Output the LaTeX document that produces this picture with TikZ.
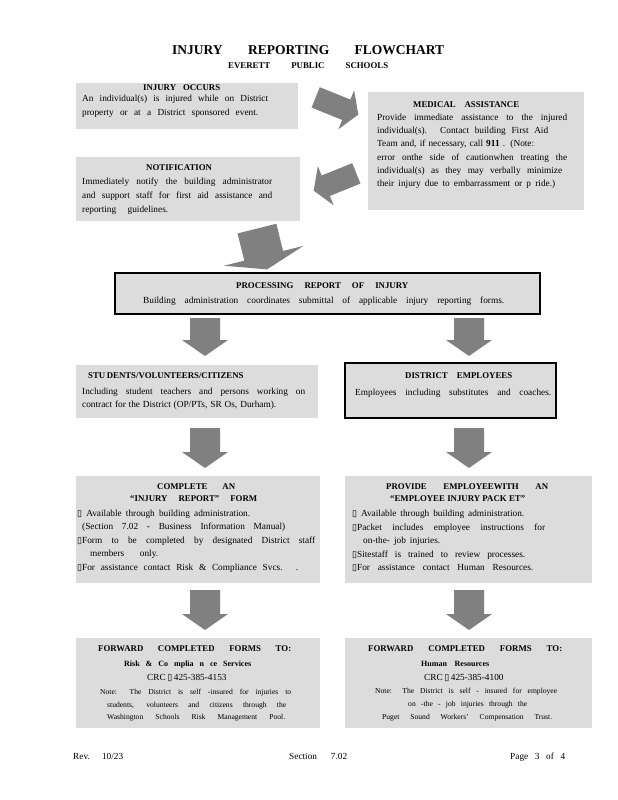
\documentclass[tikz,border=0pt]{standalone}
\usepackage{fontspec}
\setmainfont{Liberation Serif}
\newfontfamily\symfont{DejaVu Sans}
\definecolor{boxgray}{HTML}{DCDCDC}
\definecolor{arrowgray}{HTML}{808080}
\newcommand\jl[2]{\makebox[#1pt][s]{#2}}
\newcommand\sq{{\symfont\fontsize{9}{10}\selectfont ▯}}
\tikzset{
  txt/.style={anchor=base west,inner sep=0pt,font=\fontsize{9.3}{11}\selectfont},
  hd/.style={txt,font=\fontsize{8.8}{10}\selectfont\bfseries},
  sub/.style={txt,font=\fontsize{8}{9}\selectfont\bfseries},
  note/.style={txt,font=\fontsize{7.6}{9}\selectfont},
  box/.style={fill=boxgray},
  framed/.style={fill=boxgray,draw=black,line width=2pt}
}

\begin{document}
\begin{tikzpicture}[x=1pt,y=-1pt]
    \useasboundingbox (0,0) rectangle (618,800);
    \fill[white] (0,0) rectangle (618,800);
    \path[box] (76,83) rectangle (298,129);
    \path[box] (368,92) rectangle (584,210);
    \path[box] (76,157) rectangle (300,221);
    \path[framed] (115,273) rectangle (540,314);
    \path[box] (76,365) rectangle (318,418);
    \path[framed] (345,363) rectangle (556,418);
    \path[box] (76,476) rectangle (320,583);
    \path[box] (345,476) rectangle (592,583);
    \path[box] (76,638) rectangle (320,728);
    \path[box] (345,638) rectangle (592,728);
    \foreach \x/\y/\a/\l/\s/\h/\k in {337/106/-22/46/11/21/13,335/182/-158/46/11/21/13,262/249/-76/42/20/41/14,
        205/337/-90/38/15/23/16,469/337/-90/38/15/23/16,205/448/-90/40/15/23/16,
        469/448/-90/40/15/23/16,205/610/-90/40/15/23/16,469/610/-90/40/15/23/16}{
        \fill[arrowgray,shift={(\x,\y)},rotate=\a] (-\l/2,-\s) -- (\l/2-\k,-\s) -- (\l/2-\k,-\h)
            -- (\l/2,0) -- (\l/2-\k,\h) -- (\l/2-\k,\s) -- (-\l/2,\s) -- cycle;
    }
    \node[txt,font=\fontsize{13.5}{15}\selectfont\bfseries] (title) at (172,55) {\jl{272}{INJURY REPORTING FLOWCHART}};
    \node[hd] (school) at (228,68) {\jl{160}{EVERETT PUBLIC SCHOOLS}};
    \node[hd] (occursT) at (143,90) {\jl{77}{INJURY OCCURS}};
    \foreach \x/\y/\w/\t [count=\i] in {82/101/186/{An individual(s) is injured while on District},
        82/115/176/{property or at a District sponsored event.}}
        \node[txt] (occurs\i) at (\x,\y) {\jl{\w}{\t}};
    \node[hd] (medT) at (413,107) {\jl{106}{MEDICAL ASSISTANCE}};
    \foreach \x/\y/\w/\t [count=\i] in {377/120/190/{Provide immediate assistance to the injured},
        377/133/171/{individual(s). Contact building First Aid},
        377/146/157/{Team and, if necessary, call \textbf{911} . (Note:},
        377/160/190/{error onthe side of cautionwhen treating the},
        377/173/185/{individual(s) as they may verbally minimize},
        377/186/178/{their injury due to embarrassment or p ride.)}}
        \node[txt] (med\i) at (\x,\y) {\jl{\w}{\t}};
    \node[hd] (notifT) at (146,170) {\jl{59}{NOTIFICATION}};
    \foreach \x/\y/\w/\t [count=\i] in {82/184/190/{Immediately notify the building administrator},
        82/198/190/{and support staff for first aid assistance and},
        82/212/86/{reporting guidelines.}}
        \node[txt] (notif\i) at (\x,\y) {\jl{\w}{\t}};
    \node[hd] (procT) at (236,288) {\jl{172}{PROCESSING REPORT OF INJURY}};
    \node[txt] (proc1) at (143,303) {\jl{361}{Building administration coordinates submittal of applicable injury reporting forms.}};
    \node[hd] (studT) at (88,378) {\jl{152}{STU DENTS/VOLUNTEERS/CITIZENS}};
    \foreach \x/\y/\w/\t [count=\i] in {82/394/223/{Including student teachers and persons working on},
        82/407/194/{contract for the District (OP/PTs, SR Os, Durham).}}
        \node[txt] (stud\i) at (\x,\y) {\jl{\w}{\t}};
    \node[hd] (empT) at (405,378) {\jl{107}{DISTRICT EMPLOYEES}};
    \node[txt] (emp1) at (355,395) {\jl{196}{Employees including substitutes and coaches.}};
    \node[hd] (formT) at (157,489) {\jl{78}{COMPLETE AN}};
    \node[hd] (formU) at (130,501) {\jl{127}{“INJURY REPORT” FORM}};
    \foreach \x/\y/\w/\t [count=\i] in {77/516/173/{\sq{} Available through building administration.},
        82/529/203/{(Section 7.02 - Business Information Manual)},
        77/543/238/{\sq{}Form to be completed by designated District staff},
        90/556/68/{members only.},
        77/570/221/{\sq{}For assistance contact Risk \& Compliance Svcs. .}}
        \node[txt] (form\i) at (\x,\y) {\jl{\w}{\t}};
    \node[hd] (packT) at (386,489) {\jl{162}{PROVIDE EMPLOYEEWITH AN}};
    \node[hd] (packU) at (390,501) {\jl{135}{“EMPLOYEE INJURY PACK ET”}};
    \foreach \x/\y/\w/\t [count=\i] in {352/516/172/{\sq{} Available through building administration.},
        352/530/193/{\sq{}Packet includes employee instructions for},
        363/543/77/{on-the- job injuries.},
        352/557/173/{\sq{}Sitestaff is trained to review processes.},
        352/570/181/{\sq{}For assistance contact Human Resources.}}
        \node[txt] (pack\i) at (\x,\y) {\jl{\w}{\t}};
    \node[hd] (riskT) at (98,651) {\jl{193}{FORWARD COMPLETED FORMS TO:}};
    \node[sub] (riskU) at (124,666) {\jl{127}{Risk \& Co mplia n ce Services}};
    \node[txt] (riskC) at (147,680) {\jl{79}{CRC \sq{} 425-385-4153}};
    \foreach \x/\y/\w/\t [count=\i] in {100/694/191/{Note: The District is self -insured for injuries to},
        107/707/179/{students, volunteers and citizens through the},
        107/719/178/{Washington Schools Risk Management Pool.}}
        \node[note] (risk\i) at (\x,\y) {\jl{\w}{\t}};
    \node[hd] (hrT) at (368,651) {\jl{194}{FORWARD COMPLETED FORMS TO:}};
    \node[sub] (hrU) at (421,666) {\jl{68}{Human Resources}};
    \node[txt] (hrC) at (424,680) {\jl{75}{CRC \sq{} 425-385-4100}};
    \foreach \x/\y/\w/\t [count=\i] in {375/693/182/{Note: The District is self - insured for employee},
        408/706/119/{on -the - job injuries through the},
        382/719/170/{Puget Sound Workers' Compensation Trust.}}
        \node[note] (hr\i) at (\x,\y) {\jl{\w}{\t}};
    \node[txt] (rev) at (73,759) {\jl{50}{Rev. 10/23}};
    \node[txt] (section) at (289,759) {\jl{58}{Section 7.02}};
    \node[txt] (page) at (510,759) {\jl{55}{Page 3 of 4}};
\end{tikzpicture}
\end{document}
